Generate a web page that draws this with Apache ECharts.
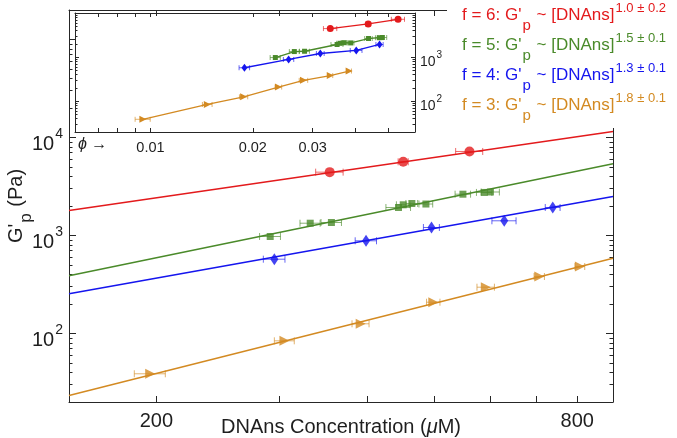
<!DOCTYPE html>
<html><head><meta charset="utf-8">
<script src="https://cdn.jsdelivr.net/npm/echarts@6/dist/echarts.min.js"></script>
<style>html,body{margin:0;padding:0;background:#fff}#c{width:677px;height:438px}</style>
</head><body><div id="c"></div>
<script>
// ---------- data ----------
const redConc = [354, 451, 561];
const redGp   = [4430, 5650, 7200];
const redErr  = [16, 7.5, 25];
const redPhi  = [0.0338, 0.0437, 0.0535];

const greenConc = [291, 332, 356, 444, 451, 464, 486, 549, 589, 601];
const greenGp   = [977, 1335, 1357, 1931, 2057, 2121, 2095, 2639, 2750, 2780];
const greenErr  = [10, 11, 12, 18, 10, 9, 11, 14, 15, 18];
const greenPhi  = [0.0233, 0.0265, 0.0284, 0.0354, 0.0361, 0.0371, 0.0388, 0.0438, 0.0471, 0.0481];

const blueConc = [295, 399, 495, 629, 738];
const blueGp   = [573, 883, 1207, 1413, 1931];
const blueErr  = [10.5, 14, 13, 25, 18];
const bluePhi  = [0.0189, 0.0255, 0.0316, 0.0403, 0.0472];

const orangeConc = [196, 305, 392, 498, 592, 706, 807];
const orangeGp   = [38.8, 84.2, 125.6, 208.6, 296.8, 381.6, 482.7];
const orangeErr  = [10, 10, 11, 11, 17, 12, 13];
const orangePhi  = [0.0095, 0.0147, 0.0188, 0.0238, 0.0282, 0.0338, 0.0384];

// power-law fit lines, values at the two ends of the concentration axis
const fitConc     = [150, 900];
const redFitGp    = [1800, 11500];
const greenFitGp  = [388, 5390];
const blueFitGp   = [254, 2500];
const orangeFitGp = [23.3, 587];

// legend texts
const legendF   = ['6', '5', '4', '3'];
const legendExp = ['1.0 ± 0.2', '1.5 ± 0.1', '1.3 ± 0.1', '1.8 ± 0.1'];

// ticks and tick labels
const mainXTicks  = [200, 300, 400, 500, 600, 700, 800];
const mainXLabels = [200, 800];
const mainYMajor  = [100, 1000, 10000, 100000];
const mainYLabels = [100, 1000, 10000];
const mainYMinor  = [30,40,50,60,70,80,90,200,300,400,500,600,700,800,900,2000,3000,4000,5000,6000,7000,8000,9000,20000,30000,40000,50000,60000,70000,80000,90000];
const insetXTicks  = [0.007, 0.008, 0.009, 0.01, 0.02, 0.03, 0.04, 0.05];
const insetXLabels = [0.01, 0.02, 0.03];
const insetYMajor  = [100, 1000];
const insetYMinor  = [30,40,50,60,70,80,90,200,300,400,500,600,700,800,900,2000,3000,4000,5000,6000,7000,8000,9000];

// ---------- style ----------
const FF = '"Liberation Sans", Arial, Helvetica, sans-serif';
const AX = '#262626';
const TXT = '#1e1e1e';
const C_RED = '#e31a1c', C_GREEN = '#4a8a2a', C_BLUE = '#1515ee', C_ORANGE = '#d38a22';
const legendColors = [C_RED, C_GREEN, C_BLUE, C_ORANGE];

function pairs(xs, ys) { return xs.map((x, i) => [x, ys[i]]); }
function triples(xs, ys, es) { return xs.map((x, i) => [x, ys[i], es[i]]); }
function scaledErr(conc, phi, err) { return err.map((e, i) => e * phi[i] / conc[i]); }

function errSeries(data, color, xi, yi, cap, lw) {
  return {
    type: 'custom', xAxisIndex: xi, yAxisIndex: yi, z: 3, silent: true,
    data: data, encode: { x: 0, y: 1 },
    renderItem: function (params, api) {
      const x = api.value(0), y = api.value(1), e = api.value(2);
      const a = api.coord([x - e, y]), b = api.coord([x + e, y]);
      const st = { stroke: color, lineWidth: lw, opacity: 0.65 };
      return { type: 'group', children: [
        { type: 'line', shape: { x1: a[0], y1: a[1], x2: b[0], y2: b[1] }, style: st },
        { type: 'line', shape: { x1: a[0], y1: a[1] - cap, x2: a[0], y2: a[1] + cap }, style: st },
        { type: 'line', shape: { x1: b[0], y1: b[1] - cap, x2: b[0], y2: b[1] + cap }, style: st }
      ] };
    }
  };
}

function tickAxis(extra) {
  const base = {
    type: 'log', logBase: 10,
    splitLine: { show: false },
    axisLine: { show: true, onZero: false, lineStyle: { color: AX, width: 1 } },
    axisLabel: { show: false },
    axisPointer: { show: false },
    nameMoveOverlap: false
  };
  return Object.assign(base, extra);
}

const supRichMain = {
  b: { fontSize: 20, lineHeight: 20, padding: [7, 0, 0, 0], verticalAlign: 'top', color: TXT, fontFamily: FF },
  s: { fontSize: 14, lineHeight: 14, padding: [0, 0, 0, 1], verticalAlign: 'top', color: TXT, fontFamily: FF }
};
const supRichInset = {
  b: { fontSize: 14, lineHeight: 14, padding: [5, 0, 0, 0], verticalAlign: 'top', color: TXT, fontFamily: FF },
  s: { fontSize: 10, lineHeight: 10, padding: [0, 0, 0, 1], verticalAlign: 'top', color: TXT, fontFamily: FF }
};
function powFmt(v) { return '{b|10}{s|' + Math.round(Math.log10(v)) + '}'; }

const xAxes = [
  tickAxis({ gridIndex: 0, min: 150, max: 900, position: 'bottom',
    axisTick: { show: true, inside: true, length: 6, customValues: mainXTicks, lineStyle: { color: AX } },
    axisLabel: { show: true, customValues: mainXLabels, fontSize: 20, margin: 9, color: TXT, fontFamily: FF,
      formatter: v => String(Math.round(v)) },
    name: '{n|DNAns Concentration (}{i|μ}{n|M)}', nameLocation: 'middle', nameGap: 15,
    nameTextStyle: { rich: {
      n: { fontSize: 20, color: TXT, fontFamily: FF },
      i: { fontSize: 20, color: TXT, fontFamily: FF, fontStyle: 'italic' } } } }),
  tickAxis({ gridIndex: 0, min: 150, max: 900, position: 'top',
    axisTick: { show: true, inside: true, length: 6, customValues: mainXTicks, lineStyle: { color: AX } } }),
  tickAxis({ gridIndex: 1, min: 0.006, max: 0.06, position: 'bottom',
    axisTick: { show: true, inside: true, length: 4, customValues: insetXTicks, lineStyle: { color: AX } },
    axisLabel: { show: true, customValues: insetXLabels, fontSize: 14.5, margin: 8, color: TXT, fontFamily: FF,
      formatter: v => v.toFixed(2) } }),
  tickAxis({ gridIndex: 1, min: 0.006, max: 0.06, position: 'top',
    axisTick: { show: true, inside: true, length: 4, customValues: insetXTicks, lineStyle: { color: AX } } })
];

const yAxes = [
  tickAxis({ gridIndex: 0, min: 20, max: 200000, position: 'left',
    axisTick: { show: true, inside: true, length: 7, customValues: mainYMajor, lineStyle: { color: AX } },
    axisLabel: { show: true, customValues: mainYLabels, margin: 6, formatter: powFmt, rich: supRichMain },
    name: "{n|G'}{sb|p}{n| (Pa)}", nameLocation: 'middle', nameRotate: 90, nameGap: 43,
    nameTextStyle: { rich: {
      n: { fontSize: 20, lineHeight: 20, padding: [0, 0, 0, 0], verticalAlign: 'top', color: TXT, fontFamily: FF },
      sb: { fontSize: 17, lineHeight: 17, padding: [12, 1, 0, 1], verticalAlign: 'top', color: TXT, fontFamily: FF } } } }),
  tickAxis({ gridIndex: 0, min: 20, max: 200000, position: 'left', axisLine: { show: false },
    axisTick: { show: true, inside: true, length: 3.5, customValues: mainYMinor, lineStyle: { color: AX } } }),
  tickAxis({ gridIndex: 0, min: 20, max: 200000, position: 'right',
    axisTick: { show: true, inside: true, length: 7, customValues: mainYMajor, lineStyle: { color: AX } } }),
  tickAxis({ gridIndex: 0, min: 20, max: 200000, position: 'right', axisLine: { show: false },
    axisTick: { show: true, inside: true, length: 3.5, customValues: mainYMinor, lineStyle: { color: AX } } }),
  tickAxis({ gridIndex: 1, min: 20, max: 10000, position: 'left',
    axisTick: { show: true, inside: true, length: 4, customValues: insetYMajor, lineStyle: { color: AX } } }),
  tickAxis({ gridIndex: 1, min: 20, max: 10000, position: 'left', axisLine: { show: false },
    axisTick: { show: true, inside: true, length: 2.5, customValues: insetYMinor, lineStyle: { color: AX } } }),
  tickAxis({ gridIndex: 1, min: 20, max: 10000, position: 'right',
    axisTick: { show: true, inside: true, length: 4, customValues: insetYMajor, lineStyle: { color: AX } },
    axisLabel: { show: true, customValues: insetYMajor, margin: 5, formatter: powFmt, rich: supRichInset } }),
  tickAxis({ gridIndex: 1, min: 20, max: 10000, position: 'right', axisLine: { show: false },
    axisTick: { show: true, inside: true, length: 2.5, customValues: insetYMinor, lineStyle: { color: AX } } })
];

const groups = [
  { conc: redConc, gp: redGp, err: redErr, phi: redPhi, fit: redFitGp, color: C_RED,
    sym: 'circle', size: 10, rot: 0, isize: 7 },
  { conc: greenConc, gp: greenGp, err: greenErr, phi: greenPhi, fit: greenFitGp, color: C_GREEN,
    sym: 'rect', size: 7, rot: 0, isize: 5 },
  { conc: blueConc, gp: blueGp, err: blueErr, phi: bluePhi, fit: blueFitGp, color: C_BLUE,
    sym: 'diamond', size: [8, 12], rot: 0, isize: [6, 8] },
  { conc: orangeConc, gp: orangeGp, err: orangeErr, phi: orangePhi, fit: orangeFitGp, color: C_ORANGE,
    sym: 'triangle', size: [10, 10], rot: -90, isize: [7, 7] }
];

const series = [];
groups.forEach(g => {
  series.push({ type: 'line', xAxisIndex: 0, yAxisIndex: 0, z: 2, symbol: 'none', silent: true,
    data: pairs(fitConc, g.fit), lineStyle: { color: g.color, width: 1.5 } });
  series.push(errSeries(triples(g.conc, g.gp, g.err), g.color, 0, 0, 3.5, 1));
  series.push({ type: 'scatter', xAxisIndex: 0, yAxisIndex: 0, z: 4, symbol: g.sym, symbolSize: g.size,
    symbolRotate: g.rot, itemStyle: { color: g.color }, data: pairs(g.conc, g.gp) });
  series.push(errSeries(triples(g.phi, g.gp, scaledErr(g.conc, g.phi, g.err)), g.color, 2, 4, 2.5, 1));
  series.push({ type: 'line', xAxisIndex: 2, yAxisIndex: 4, z: 4, symbol: g.sym, symbolSize: g.isize,
    symbolRotate: g.rot, showSymbol: true, showAllSymbol: true, data: pairs(g.phi, g.gp),
    lineStyle: { color: g.color, width: 1.3 }, itemStyle: { color: g.color } });
});

// legend block (top right) drawn as rich text over a white panel
const graphics = [
  { type: 'rect', z: 100, silent: true, shape: { x: 447, y: 0, width: 230, height: 128 }, style: { fill: '#fff' } }
];
legendF.forEach((f, i) => {
  const col = legendColors[i];
  graphics.push({
    type: 'text', z: 101, left: 462, top: -0.5 + 30 * i, silent: true,
    style: {
      text: '{a|f = ' + f + ": G'}{sb|p}{a| ~ [DNAns]}{sp|" + legendExp[i] + '}',
      rich: {
        a:  { fontSize: 17, lineHeight: 17, padding: [7, 0, 0, 0], verticalAlign: 'top', fill: col, fontFamily: FF },
        sb: { fontSize: 15, lineHeight: 15, padding: [19, 1, 0, 1], verticalAlign: 'top', fill: col, fontFamily: FF },
        sp: { fontSize: 13, lineHeight: 13, padding: [2, 0, 0, 1], verticalAlign: 'top', fill: col, fontFamily: FF }
      }
    }
  });
});
graphics.push({
  type: 'text', z: 101, left: 78, top: 137, silent: true,
  style: { text: '{i|ϕ}{n| →}', rich: {
    i: { fontSize: 16, fontStyle: 'italic', fill: TXT, fontFamily: FF },
    n: { fontSize: 16, fill: TXT, fontFamily: FF } } }
});

const chart = echarts.init(document.getElementById('c'), null, { renderer: 'canvas' });
chart.setOption({
  animation: false,
  backgroundColor: '#fff',
  textStyle: { fontFamily: FF },
  grid: [
    { left: 69, top: 10, width: 544, height: 392, containLabel: false, outerBoundsMode: 'none' },
    { left: 75, top: 13, width: 340, height: 119, show: true, backgroundColor: '#fff', borderWidth: 0,
      containLabel: false, outerBoundsMode: 'none' }
  ],
  xAxis: xAxes,
  yAxis: yAxes,
  series: series,
  graphic: graphics
});
</script></body></html>
